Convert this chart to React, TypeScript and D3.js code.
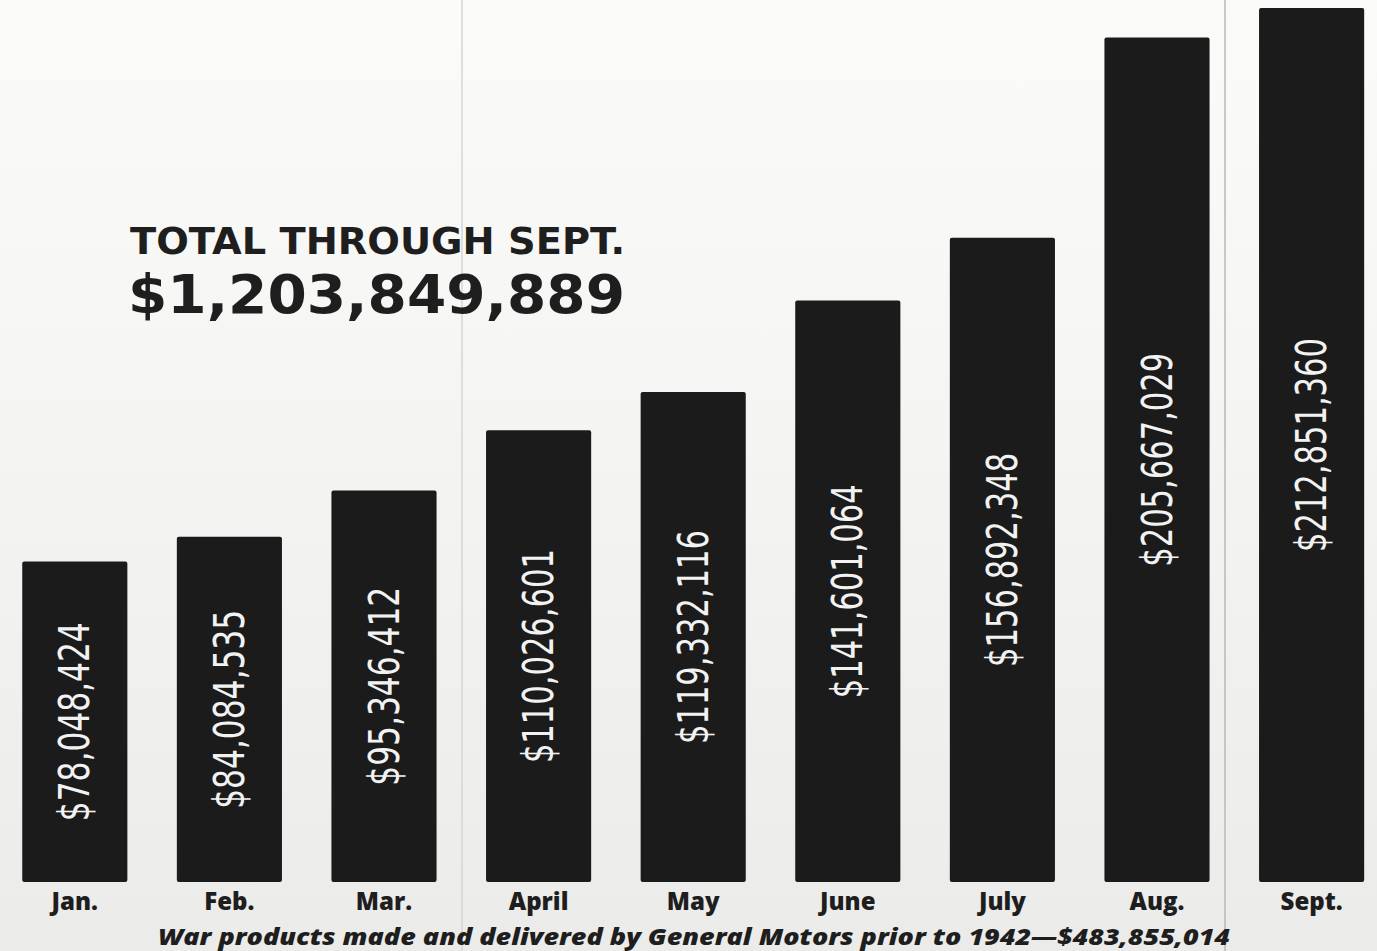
import React from "react";
import * as d3 from "d3";

const months = ["Jan.", "Feb.", "Mar.", "April", "May", "June", "July", "Aug.", "Sept."];
const values = [78048424, 84084535, 95346412, 110026601, 119332116, 141601064, 156892348, 205667029, 212851360];
const titleLine1 = "TOTAL THROUGH SEPT.";
const titleLine2 = "$1,203,849,889";
const caption = "War products made and delivered by General Motors prior to 1942\u2014$483,855,014";

const W = 1377;
const H = 951;

export default function App() {
  const x = d3
    .scaleBand<string>()
    .domain(months)
    .range([-2.5, -2.5 + 9 * 154.6])
    .paddingInner(0.32)
    .paddingOuter(0.16);
  const y = d3.scaleLinear().domain([0, 212851360]).range([882, 8]);
  const fmt = (v: number) => "$" + d3.format(",")(v);

  return (
    <svg
      width={W}
      height={H}
      style={{ position: "absolute", left: 0, top: 0, display: "block" }}
    >
      <defs>
        <linearGradient id="bg" x1="0" y1="0" x2="0" y2="1">
          <stop offset="0" stopColor="#fbfbfa" />
          <stop offset="0.35" stopColor="#f6f6f4" />
          <stop offset="1" stopColor="#ebebe9" />
        </linearGradient>
      </defs>
      <rect x={0} y={0} width={W} height={H} fill="url(#bg)" />
      <line x1={462} x2={462} y1={0} y2={H} stroke="#d6d6d4" strokeWidth={1.5} />
      <line x1={1225} x2={1225} y1={0} y2={H} stroke="#b8b8b6" strokeWidth={1.5} />

      {months.map((m, i) => {
        const v = values[i];
        const bx = x(m)!;
        const bw = x.bandwidth();
        const top = y(v);
        const bottom = y(0);
        const cx = bx + bw / 2;
        const cy = (top + bottom) / 2;
        const label = fmt(v);
        const len = label.length >= 12 ? 214 : 199;
        return (
          <g key={m}>
            <rect x={bx} y={top} width={bw} height={bottom - top} fill="#1b1b1b" rx={2} />
            <text
              transform={`translate(${cx},${cy}) rotate(-90)`}
              textAnchor="middle"
              dominantBaseline="central"
              fill="#f2f2f2"
              fontFamily="'DejaVu Sans Condensed', 'DejaVu Sans', sans-serif"
              fontSize={42}
              textLength={len}
              lengthAdjust="spacingAndGlyphs"
            >
              {label}
            </text>
            <text
              x={cx}
              y={910}
              textAnchor="middle"
              fill="#1e1e1e"
              fontFamily="'Open Sans', Lato, sans-serif"
              fontWeight={800}
              fontSize={24}
            >
              {m}
            </text>
          </g>
        );
      })}

      <text
        x={130}
        y={254}
        fill="#1e1e1e"
        fontFamily="'DejaVu Sans', sans-serif"
        fontWeight={700}
        fontSize={38}
        textLength={495}
        lengthAdjust="spacingAndGlyphs"
      >
        {titleLine1}
      </text>
      <text
        x={128}
        y={313}
        fill="#1e1e1e"
        fontFamily="'DejaVu Sans', sans-serif"
        fontWeight={700}
        fontSize={54}
        textLength={497}
        lengthAdjust="spacingAndGlyphs"
      >
        {titleLine2}
      </text>

      <text
        x={158}
        y={945}
        fill="#1e1e1e"
        fontFamily="'Open Sans', Lato, sans-serif"
        fontWeight={800}
        fontStyle="italic"
        fontSize={22}
        textLength={1072}
        lengthAdjust="spacingAndGlyphs"
      >
        {caption}
      </text>
    </svg>
  );
}
